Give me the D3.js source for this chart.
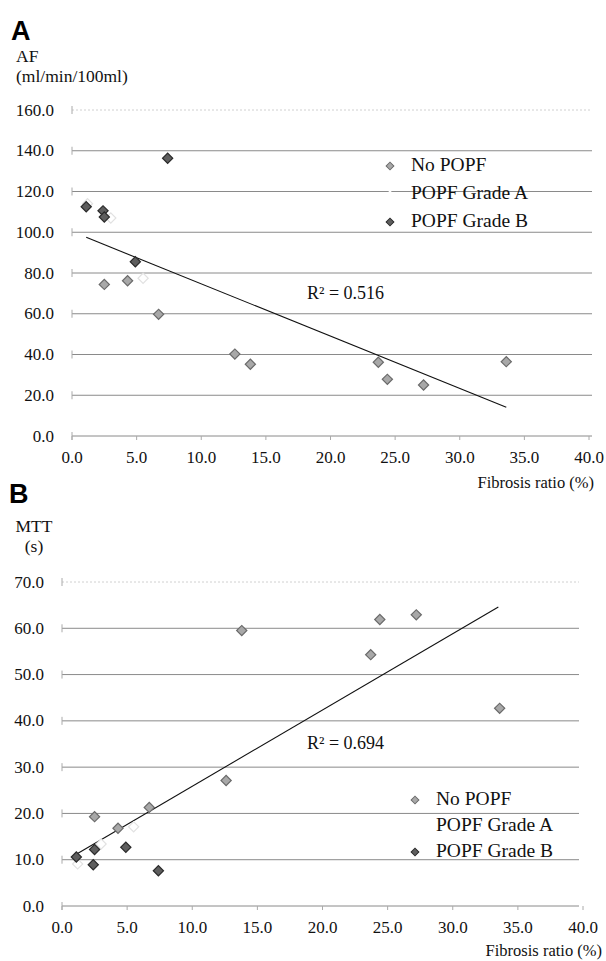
<!DOCTYPE html>
<html>
<head>
<meta charset="utf-8">
<script src="https://cdn.jsdelivr.net/npm/d3@7"></script>
<style>
  body { margin: 0; background: #fff; }
  svg { display: block; }
</style>
</head>
<body>
<div id="main"></div>
<script>
const xTicks = [0, 5, 10, 15, 20, 25, 30, 35, 40];
const afTicks = [0, 20, 40, 60, 80, 100, 120, 140, 160];
const mttTicks = [0, 10, 20, 30, 40, 50, 60, 70];
const groups = ['No POPF', 'POPF Grade A', 'POPF Grade B'];

// fibrosis ratio (%) per patient, by group
const noPopfX = [2.5, 4.3, 6.7, 12.6, 13.8, 23.7, 24.4, 27.2, 33.6];
const gradeAX = [1.2, 3.0, 5.5];
const gradeBX = [1.1, 2.4, 2.5, 4.9, 7.4];

// AF (ml/min/100ml)
const noPopfAF = [74.4, 76.2, 59.7, 40.2, 35.2, 36.2, 27.8, 25.0, 36.5];
const gradeAAF = [114, 107, 77.4];
const gradeBAF = [112.5, 110.5, 107.5, 85.5, 136.3];

// MTT (s)
const noPopfMTT = [19.3, 16.8, 21.3, 27.1, 59.5, 54.3, 61.9, 62.9, 42.7];
const gradeAMTT = [9.1, 13.4, 17.1];
const gradeBMTT = [10.6, 8.9, 12.2, 12.7, 7.6];

// trend line end points [x, y]
const afTrend = [[1.1, 97.5], [33.6, 14.1]];
const mttTrend = [[1.1, 11.2], [33.5, 64.6]];

const fills = ['#a8a8a8', '#ffffff', '#5e5e5e'];
const strokes = ['#6a6a6a', '#e2e2e2', '#2a2a2a'];

const svg = d3.select('#main')
  .append('svg')
  .attr('width', 606)
  .attr('height', 961);

svg.append('rect').attr('width', 606).attr('height', 961).attr('fill', '#fff');

function label(g, x, y, size, anchor, txt) {
  return g.append('text')
    .attr('x', x)
    .attr('y', y)
    .style('font-family', "'Liberation Serif'")
    .style('font-size', `${size}px`)
    .style('fill', '#111')
    .style('text-anchor', anchor)
    .text(txt);
}

function panel(cfg) {
  const g = svg.append('g');
  const x = d3.scaleLinear().domain([0, 40]).range([cfg.left, cfg.right]);
  const y = d3.scaleLinear().domain([0, cfg.yMax]).range([cfg.bottom, cfg.top]);

  g.append('text')
    .attr('x', cfg.letterX).attr('y', cfg.letterY)
    .style('font-family', "'Liberation Sans'")
    .style('font-weight', 'bold')
    .style('font-size', '27px')
    .text(cfg.letter);

  cfg.yTitle.forEach((t, i) => {
    label(g, cfg.yTitleX, cfg.yTitleY + i * 20, 17.5, cfg.yTitleAnchor, t);
  });

  // gridlines
  g.selectAll('.grid')
    .data(cfg.yTicks)
    .enter()
    .append('line')
    .attr('x1', cfg.left)
    .attr('x2', cfg.gridEnd)
    .attr('y1', d => y(d))
    .attr('y2', d => y(d))
    .attr('stroke', d => (d === cfg.yMax ? '#c4c4c4' : '#8a8a8a'))
    .attr('stroke-width', d => (d === cfg.yMax ? 0.8 : 1))
    .attr('stroke-dasharray', d => (d === cfg.yMax ? '2,2' : null));

  // y tick crosses
  g.selectAll('.ytk')
    .data(cfg.yTicks)
    .enter()
    .append('line')
    .attr('x1', cfg.left)
    .attr('x2', cfg.left)
    .attr('y1', d => y(d) - 4)
    .attr('y2', d => y(d) + 4)
    .attr('stroke', '#aaa');

  cfg.yTicks.forEach(d => {
    label(g, cfg.left - 18, y(d) + 5.5, 17, 'end', d.toFixed(1));
  });

  // x ticks
  g.selectAll('.xtk')
    .data(xTicks)
    .enter()
    .append('line')
    .attr('x1', d => x(d))
    .attr('x2', d => x(d))
    .attr('y1', cfg.bottom)
    .attr('y2', cfg.bottom + 4)
    .attr('stroke', '#aaa');

  xTicks.forEach(d => {
    label(g, x(d), cfg.bottom + 27, 17, 'middle', d.toFixed(1));
  });

  label(g, cfg.xTitleX, cfg.xTitleY, 16.5, 'end', 'Fibrosis ratio (%)');

  // trend line
  g.append('line')
    .attr('x1', x(cfg.trend[0][0]))
    .attr('y1', y(cfg.trend[0][1]))
    .attr('x2', x(cfg.trend[1][0]))
    .attr('y2', y(cfg.trend[1][1]))
    .attr('stroke', '#111')
    .attr('stroke-width', 1.1);

  label(g, cfg.r2X, cfg.r2Y, 18, 'start', cfg.r2);

  const diamond = d3.symbol().type(d3.symbolSquare).size(52);
  const small = d3.symbol().type(d3.symbolSquare).size(30);

  cfg.series.forEach((s, k) => {
    g.selectAll(`.pt${k}`)
      .data(s.xs.map((v, i) => [v, s.ys[i]]))
      .enter()
      .append('path')
      .attr('d', diamond)
      .attr('transform', d => `translate(${x(d[0])},${y(d[1])}) rotate(45)`)
      .attr('fill', fills[k])
      .attr('stroke', strokes[k])
      .attr('stroke-width', 1.2);
  });

  // legend
  groups.forEach((name, k) => {
    const ly = cfg.legY + k * cfg.legStep;
    g.append('path')
      .attr('d', small)
      .attr('transform', `translate(${cfg.legX},${ly - 5}) rotate(45)`)
      .attr('fill', fills[k])
      .attr('stroke', k === 1 ? 'none' : strokes[k])
      .attr('stroke-width', 1);
    label(g, cfg.legX + 21, ly, 19.5, 'start', name);
  });
}

panel({
  letter: 'A', letterX: 11, letterY: 40,
  yTitle: ['AF', '(ml/min/100ml)'], yTitleX: 16, yTitleY: 62, yTitleAnchor: 'start',
  left: 72, right: 589, gridEnd: 592, top: 110, bottom: 436, yMax: 160,
  yTicks: afTicks,
  xTitleX: 594, xTitleY: 488,
  trend: afTrend, r2: 'R² = 0.516', r2X: 307, r2Y: 299,
  legX: 390, legY: 171, legStep: 28,
  series: [
    { xs: noPopfX, ys: noPopfAF },
    { xs: gradeAX, ys: gradeAAF },
    { xs: gradeBX, ys: gradeBAF }
  ]
});

panel({
  letter: 'B', letterX: 9, letterY: 503,
  yTitle: ['MTT', '(s)'], yTitleX: 34, yTitleY: 532, yTitleAnchor: 'middle',
  left: 62, right: 583, gridEnd: 579, top: 582, bottom: 906, yMax: 70,
  yTicks: mttTicks,
  xTitleX: 602, xTitleY: 956,
  trend: mttTrend, r2: 'R² = 0.694', r2X: 307, r2Y: 749,
  legX: 415, legY: 805, legStep: 26,
  series: [
    { xs: noPopfX, ys: noPopfMTT },
    { xs: gradeAX, ys: gradeAMTT },
    { xs: gradeBX, ys: gradeBMTT }
  ]
});
</script>
</body>
</html>
